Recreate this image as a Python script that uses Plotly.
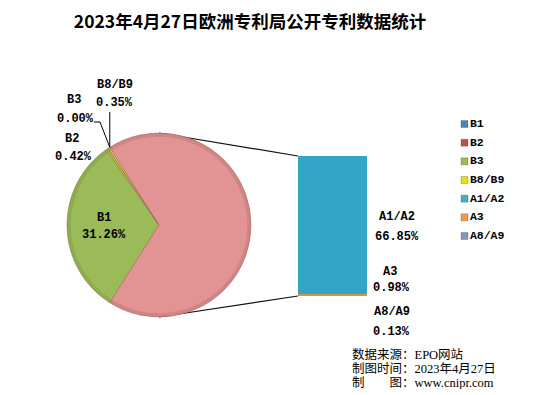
import plotly.graph_objects as go
import math

# ---------------- data ----------------
pie_labels = ["B1", "B2", "B3", "B8/B9"]
pie_values = [31.26, 0.42, 0.00, 0.35]
bar_labels = ["A1/A2", "A3", "A8/A9"]
bar_values = [66.85, 0.98, 0.13]
legend_labels = ["B1", "B2", "B3", "B8/B9", "A1/A2", "A3", "A8/A9"]
title_text = "2023年4月27日欧洲专利局公开专利数据统计"
footer_lines = ["数据来源：EPO网站", "制图时间：2023年4月27日", "制　　图：www.cnipr.com"]

# ---------------- styles ----------------
W, H = 550, 395
def fx(p): return p / W
def fy(p): return 1 - p / H

pie_colors = ["#9BBB59", "#B3C64A", "#C8CF3A", "#D8D82E", "#E29494"]
rim_colors = ["rgba(110,140,50,0.3)", "rgba(110,140,50,0.3)", "rgba(110,140,50,0.3)",
              "rgba(110,140,50,0.3)", "rgba(170,95,95,0.3)"]
bar_colors = {"A1/A2": "#33A5C7", "A3": "#E0913F", "A8/A9": "#8C9DB8"}
legend_colors = ["#4F81BD", "#C0504D", "#9BBB59", "#E4E400", "#4BACC6", "#F79646", "#8497B8"]
lab_font = dict(family="Liberation Mono, monospace", size=12, color="#000000", weight="bold")

# pie geometry (pixels)
cx, cy, r = 159, 225, 92
other = sum(bar_values)
b_total = sum(pie_values)
tot = b_total + other
rotation = 270 - (b_total / tot) * 360 / 2
pie_domain = dict(x=[fx(cx - r), fx(cx + r)], y=[fy(cy + r), fy(cy - r)])

fig = go.Figure()

fig.add_trace(go.Pie(
    labels=pie_labels + ["其他"], values=pie_values + [other],
    sort=False, direction="clockwise", rotation=rotation,
    marker=dict(colors=pie_colors, line=dict(color="rgba(150,90,90,0.6)", width=0.8)),
    textinfo="none", hoverinfo="label+percent", showlegend=False,
    domain=pie_domain,
))
# subtle bevel rim
fig.add_trace(go.Pie(
    labels=pie_labels + ["其他"], values=pie_values + [other], hole=0.96,
    sort=False, direction="clockwise", rotation=rotation,
    marker=dict(colors=rim_colors, line=dict(width=0)),
    textinfo="none", hoverinfo="skip", showlegend=False,
    domain=pie_domain,
))

# stacked bar (bottom-up: A8/A9, A3, A1/A2)
for lab in reversed(bar_labels):
    v = bar_values[bar_labels.index(lab)]
    fig.add_trace(go.Bar(
        x=[0], y=[v], name=lab, width=1, xaxis="x2", yaxis="y2",
        marker=dict(color=bar_colors[lab], line=dict(width=0)),
        showlegend=False, hoverinfo="name+y",
    ))

# legend as scatter
fig.add_trace(go.Scatter(
    x=[0] * len(legend_labels), y=legend_labels, xaxis="x3", yaxis="y3",
    mode="markers+text", text=legend_labels, textposition="middle right",
    textfont=dict(family="Liberation Mono, monospace", size=11.5, color="#000000", weight="bold"),
    marker=dict(symbol="square", size=7, color=legend_colors,
                line=dict(color="rgba(60,60,60,0.45)", width=0.6)),
    showlegend=False, hoverinfo="skip", cliponaxis=False,
))

bx0, bx1, by0, by1 = 298, 367, 156, 296
fig.update_layout(
    width=W, height=H, margin=dict(l=0, r=0, t=0, b=0),
    paper_bgcolor="white", plot_bgcolor="rgba(0,0,0,0)",
    barmode="stack", showlegend=False,
    title=dict(text="<b>" + title_text + "</b>", x=fx(250), y=fy(22),
               xanchor="center", yanchor="middle",
               font=dict(family="Noto Sans CJK SC", size=17.5, color="#000000")),
    xaxis=dict(visible=False),
    yaxis=dict(visible=False),
    xaxis2=dict(domain=[fx(bx0), fx(bx1)], range=[-0.5, 0.5], visible=False, anchor="y2", fixedrange=True),
    yaxis2=dict(domain=[fy(by1), fy(by0)], range=[0, other], visible=False, anchor="x2", fixedrange=True),
    xaxis3=dict(domain=[fx(454.5), fx(474.5)], range=[-1, 1], visible=False, anchor="y3"),
    yaxis3=dict(domain=[fy(245.3), fy(114.7)], range=[6.5, -0.5], type="category",
                visible=False, anchor="x3"),
)

# connector lines (from pie top/bottom to bar corners)
fig.add_shape(type="line", xref="paper", yref="paper", layer="below",
              x0=fx(cx), y0=fy(cy - r), x1=fx(bx0), y1=fy(by0),
              line=dict(color="#111111", width=1.2))
fig.add_shape(type="line", xref="paper", yref="paper", layer="below",
              x0=fx(cx), y0=fy(cy + r), x1=fx(bx0), y1=fy(by1),
              line=dict(color="#111111", width=1.2))

def ann(text, px, py, **kw):
    extra = {}
    if "height" in kw:
        extra = dict(height=kw["height"], borderpad=0, valign="middle")
    fig.add_annotation(text=text, x=fx(px), y=fy(py), xref="paper", yref="paper",
                       showarrow=False, xanchor=kw.get("xanchor", "center"), yanchor="middle",
                       font=kw.get("font", lab_font), **extra)

def pct(v): return f"{v:.2f}%"

# B1 label at slice middle
mid = math.radians(rotation + pie_values[0] / tot * 360 / 2)
lx, ly = cx + 0.6 * r * math.sin(mid), cy - 0.6 * r * math.cos(mid)
ann(pie_labels[0], lx, ly - 8.5)
ann(pct(pie_values[0]), lx, ly + 8.5)

# small slices
ann(pie_labels[1], 72, 139); ann(pct(pie_values[1]), 73, 157)
ann(pie_labels[2], 74, 100); ann(pct(pie_values[2]), 75, 119)
ann(pie_labels[3], 115, 85); ann(pct(pie_values[3]), 115, 103)

# leader lines from the small-slice edge
edge = math.radians(rotation + b_total / tot * 360)
ex, ey = cx + r * math.sin(edge), cy - r * math.cos(edge)
fig.add_shape(type="line", xref="paper", yref="paper",
              x0=fx(ex), y0=fy(ey), x1=fx(ex), y1=fy(112), line=dict(color="#000000", width=1))
fig.add_shape(type="path", xref="paper", yref="paper",
              path=f"M {fx(ex)},{fy(ey)} L {fx(100)},{fy(122)} L {fx(94)},{fy(122)}",
              line=dict(color="#000000", width=1))

# bar labels
ann(bar_labels[0], 397, 217); ann(pct(bar_values[0]), 397, 237)
ann(bar_labels[1], 390, 272); ann(pct(bar_values[1]), 391, 288)
ann(bar_labels[2], 392, 312); ann(pct(bar_values[2]), 391, 332)

# footer
ffont = dict(family="Liberation Serif, Noto Sans CJK SC", size=12.5, color="#000000")
for i, t in enumerate(footer_lines):
    ann(t, 351, 354 + i * 14, xanchor="left", font=ffont, height=13)

fig.write_html("out.html", config={"displayModeBar": False},
               post_script="document.body.style.margin='0';")
